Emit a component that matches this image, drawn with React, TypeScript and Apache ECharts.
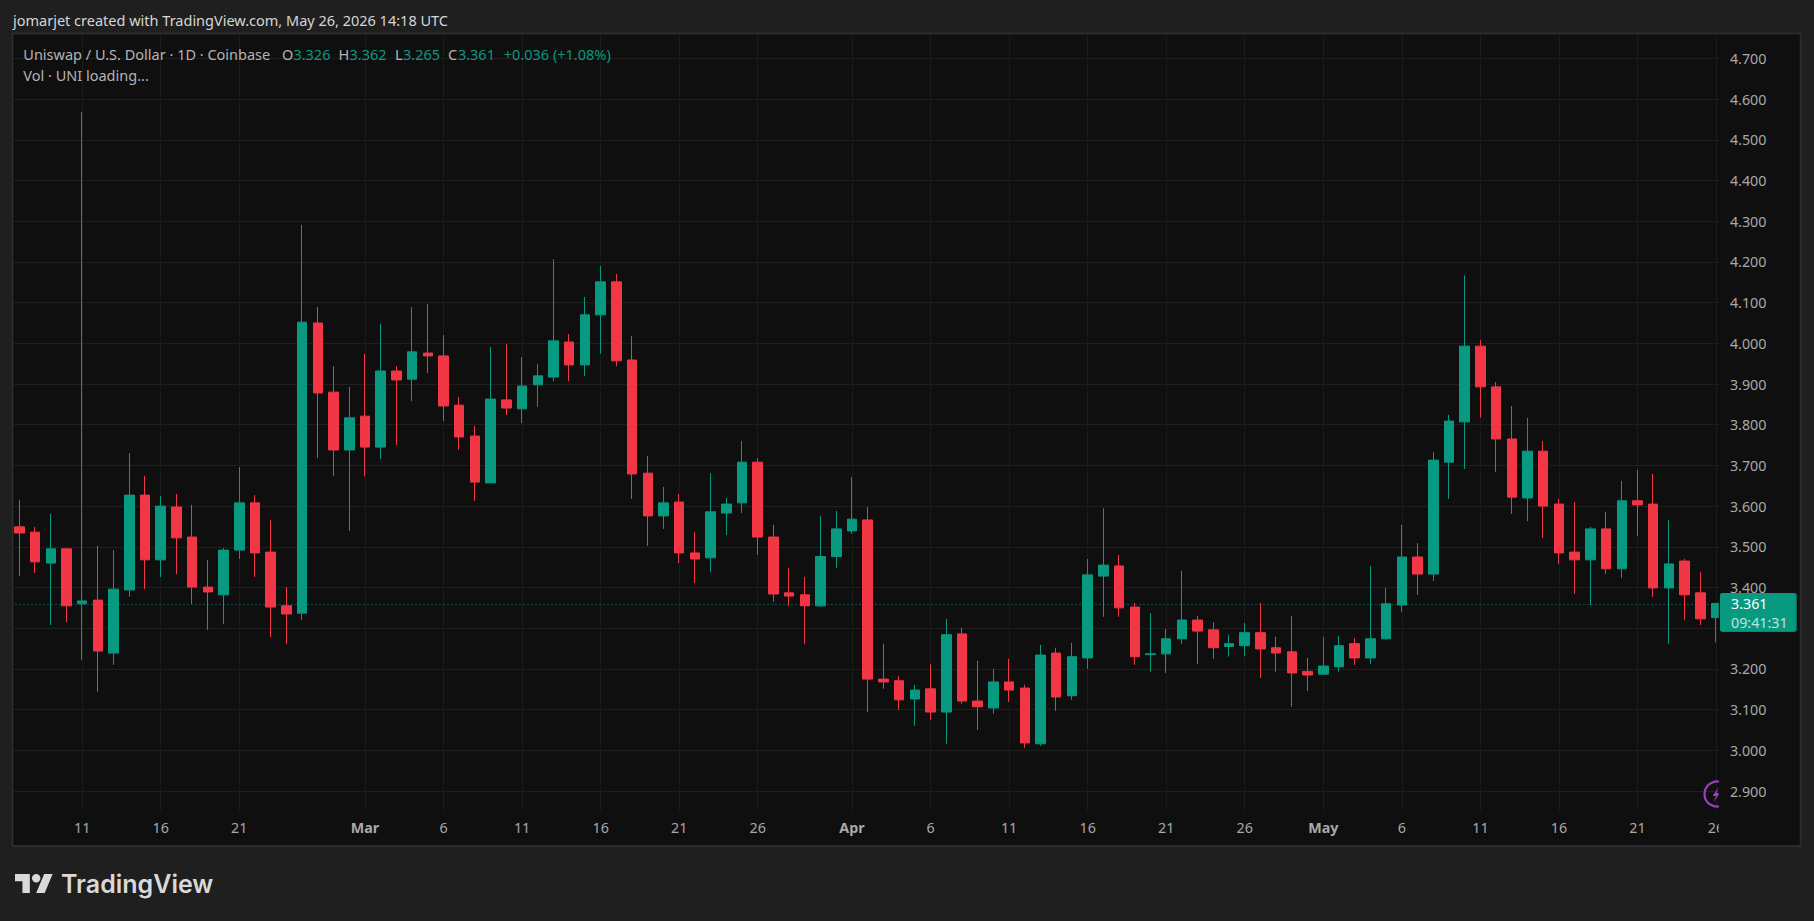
import React, { useEffect, useRef } from "react";
import * as echarts from "echarts";

const dates = [
  "Feb 7","Feb 8","Feb 9","Feb 10","Feb 11","Feb 12","Feb 13","Feb 14","Feb 15","Feb 16","Feb 17","Feb 18","Feb 19","Feb 20","Feb 21","Feb 22","Feb 23","Feb 24","Feb 25","Feb 26","Feb 27","Feb 28",
  "Mar 1","Mar 2","Mar 3","Mar 4","Mar 5","Mar 6","Mar 7","Mar 8","Mar 9","Mar 10","Mar 11","Mar 12","Mar 13","Mar 14","Mar 15","Mar 16","Mar 17","Mar 18","Mar 19","Mar 20","Mar 21","Mar 22","Mar 23","Mar 24","Mar 25","Mar 26","Mar 27","Mar 28","Mar 29","Mar 30","Mar 31",
  "Apr 1","Apr 2","Apr 3","Apr 4","Apr 5","Apr 6","Apr 7","Apr 8","Apr 9","Apr 10","Apr 11","Apr 12","Apr 13","Apr 14","Apr 15","Apr 16","Apr 17","Apr 18","Apr 19","Apr 20","Apr 21","Apr 22","Apr 23","Apr 24","Apr 25","Apr 26","Apr 27","Apr 28","Apr 29","Apr 30",
  "May 1","May 2","May 3","May 4","May 5","May 6","May 7","May 8","May 9","May 10","May 11","May 12","May 13","May 14","May 15","May 16","May 17","May 18","May 19","May 20","May 21","May 22","May 23","May 24","May 25","May 26",
];
const opens = [
  3.549,3.536,3.460,3.495,3.360,3.369,3.239,3.394,3.627,3.468,3.598,3.524,3.401,3.382,3.492,3.608,3.487,3.355,3.337,4.050,3.880,3.738,
  3.821,3.745,3.932,3.912,3.976,3.969,3.848,3.772,3.657,3.861,3.839,3.898,3.917,4.003,3.947,4.070,4.151,3.959,3.681,3.576,3.610,3.485,3.473,3.583,3.608,3.708,3.524,3.387,3.382,3.355,3.476,
  3.539,3.566,3.175,3.171,3.126,3.151,3.094,3.286,3.121,3.104,3.168,3.153,3.016,3.239,3.134,3.227,3.428,3.453,3.352,3.235,3.237,3.274,3.320,3.296,3.255,3.257,3.289,3.252,3.242,3.194,
  3.187,3.205,3.262,3.227,3.274,3.357,3.475,3.433,3.708,3.807,3.993,3.893,3.765,3.620,3.735,3.605,3.487,3.468,3.544,3.446,3.613,3.605,3.399,3.465,3.387,3.326,
];
const closes = [
  3.534,3.463,3.495,3.355,3.367,3.244,3.396,3.627,3.468,3.600,3.522,3.401,3.389,3.492,3.608,3.485,3.352,3.335,4.052,3.878,3.738,3.817,
  3.745,3.932,3.910,3.979,3.969,3.846,3.770,3.659,3.863,3.841,3.895,3.920,4.006,3.947,4.070,4.151,3.957,3.679,3.576,3.608,3.485,3.470,3.586,3.605,3.708,3.524,3.384,3.379,3.355,3.476,3.544,
  3.568,3.175,3.168,3.124,3.148,3.094,3.284,3.121,3.107,3.168,3.148,3.018,3.234,3.131,3.230,3.431,3.455,3.350,3.230,3.237,3.274,3.320,3.293,3.252,3.262,3.289,3.249,3.239,3.190,3.185,
  3.207,3.257,3.227,3.274,3.360,3.475,3.433,3.713,3.809,3.993,3.893,3.765,3.622,3.735,3.600,3.485,3.468,3.544,3.446,3.613,3.603,3.399,3.458,3.382,3.323,3.361,
];
const lows = [
  3.428,3.436,3.308,3.315,3.222,3.144,3.210,3.377,3.396,3.426,3.433,3.360,3.296,3.310,3.470,3.426,3.278,3.261,3.320,3.718,3.674,3.539,
  3.673,3.716,3.750,3.858,3.927,3.809,3.738,3.613,3.657,3.824,3.804,3.844,3.907,3.907,3.920,3.974,3.944,3.618,3.502,3.544,3.460,3.411,3.438,3.529,3.583,3.480,3.365,3.355,3.261,3.352,3.448,
  3.532,3.094,3.151,3.099,3.060,3.075,3.016,3.114,3.050,3.090,3.119,3.006,3.011,3.097,3.124,3.200,3.328,3.328,3.210,3.193,3.190,3.262,3.212,3.225,3.230,3.232,3.178,3.193,3.107,3.146,
  3.187,3.193,3.210,3.212,3.272,3.340,3.382,3.416,3.618,3.691,3.817,3.684,3.581,3.563,3.522,3.458,3.384,3.357,3.433,3.423,3.527,3.377,3.262,3.320,3.308,3.265,
];
const highs = [
  3.615,3.549,3.581,3.497,4.568,3.502,3.492,3.730,3.674,3.625,3.630,3.603,3.468,3.497,3.696,3.627,3.566,3.401,4.291,4.089,3.944,3.893,
  3.974,4.048,3.944,4.089,4.097,4.020,3.868,3.797,3.991,3.998,3.966,3.949,4.207,4.023,4.114,4.190,4.170,4.018,3.723,3.647,3.630,3.536,3.681,3.620,3.760,3.718,3.554,3.448,3.426,3.576,3.588,
  3.671,3.598,3.262,3.183,3.161,3.212,3.323,3.301,3.220,3.200,3.225,3.161,3.259,3.252,3.264,3.470,3.595,3.480,3.362,3.337,3.298,3.441,3.330,3.315,3.284,3.313,3.362,3.279,3.330,3.227,
  3.279,3.281,3.276,3.453,3.399,3.554,3.509,3.733,3.824,4.167,4.008,3.905,3.846,3.817,3.760,3.618,3.610,3.549,3.586,3.662,3.689,3.679,3.566,3.470,3.438,3.362,
];
const tickDates = ["Feb 11","Feb 16","Feb 21","Mar 1","Mar 6","Mar 11","Mar 16","Mar 21","Mar 26","Apr 1","Apr 6","Apr 11","Apr 16","Apr 21","Apr 26","May 1","May 6","May 11","May 16","May 21","May 26"];
const tickTexts = ["11","16","21","Mar","6","11","16","21","26","Apr","6","11","16","21","26","May","6","11","16","21","26"];
const monthTexts = ["Mar","Apr","May"];
const priceTicks = [2.9,3.0,3.1,3.2,3.3,3.4,3.5,3.6,3.7,3.8,3.9,4.0,4.1,4.2,4.3,4.4,4.5,4.6,4.7];
// 3.300 sits hidden behind the last-price tag, as in the original
const priceLabels = [2.9,3.0,3.1,3.2,3.4,3.5,3.6,3.7,3.8,3.9,4.0,4.1,4.2,4.3,4.4,4.5,4.6,4.7];
const lastPrice = 3.361;
const changeText = "+0.036 (+1.08%)";
const countdown = "09:41:31";
const headerText = "jomarjet created with TradingView.com, May 26, 2026 14:18 UTC";
const symbolText = "Uniswap / U.S. Dollar · 1D · Coinbase";
const volText = "Vol · UNI loading...";
const brandText = "TradingView";

const UP = "#089981";
const DOWN = "#F23645";
const FONT = "'Noto Sans'";
const TEXT_SIZE = 14.5;
const AXIS_SIZE = 14.3;
const BADGE = "#a03cc0";

echarts.graphic.registerShape("tvLogo", echarts.graphic.extendPath(
  "M14 6H0v7h7v11h7V6zM28 24h-8l7.5-18h8L28 24zM24 10a4 4 0 1 0-8 0 4 4 0 1 0 8 0z", {}
) as any);

const legendText = (text: string, x: number, y: number, fill: string) => ({
  type: "text", x, y, z: 6, silent: true,
  style: { text, fill, fontSize: TEXT_SIZE, fontFamily: FONT, verticalAlign: "middle", textVerticalAlign: "middle" },
});

export default function App() {
  const ref = useRef<HTMLDivElement>(null);
  useEffect(() => {
    document.body.style.margin = "0";
    document.body.style.background = "#1f1f1f";
    const chart = echarts.init(ref.current!, undefined, { renderer: "svg" });
    const isTick = (i: number) => tickDates.includes(dates[i]);
    const labelFor = (val: string) => {
      const t = tickTexts[tickDates.indexOf(val)];
      return monthTexts.includes(t) ? `{m|${t}}` : t;
    };
    const last = dates.length - 1;
    chart.setOption({
      animation: false,
      backgroundColor: "#1f1f1f",
      grid: { left: 11.5, top: 34, width: 1712.4, height: 776.7, containLabel: false },
      xAxis: {
        type: "category", data: dates, boundaryGap: true, z: 1,
        axisLine: { show: false }, axisTick: { show: false },
        splitLine: { show: true, alignWithLabel: true, interval: (i: number) => isTick(i), lineStyle: { color: "#1b1b1b", width: 1 } },
        axisLabel: {
          interval: (i: number) => isTick(i), formatter: labelFor, color: "#a9a9a9", fontSize: AXIS_SIZE, fontFamily: FONT, margin: 10,
          rich: { m: { fontWeight: "bold", color: "#a9a9a9", fontSize: AXIS_SIZE, fontFamily: FONT } },
        },
      },
      yAxis: [
        {
          type: "value", min: 2.8516, max: 4.76, position: "right", z: 1,
          axisLine: { show: false }, axisTick: { show: false, customValues: priceTicks },
          axisLabel: { show: false, customValues: priceTicks },
          splitLine: { show: true, lineStyle: { color: "#1f1f1f", width: 1 } },
        },
        {
          type: "value", min: 2.8516, max: 4.76, position: "right", z: 10,
          axisLine: { show: false }, axisTick: { show: false, customValues: priceLabels },
          axisLabel: { customValues: priceLabels, margin: 6, color: "#a9a9a9", fontSize: AXIS_SIZE, fontFamily: FONT, formatter: (v: number) => v.toFixed(3), showMinLabel: true, showMaxLabel: true },
          splitLine: { show: false },
        },
      ],
      series: [{
        type: "candlestick", z: 3, barWidth: 10, xAxisIndex: 0, yAxisIndex: 0,
        data: dates.map((_, i) => [opens[i], closes[i], lows[i], highs[i]]),
        itemStyle: { color: UP, color0: DOWN, borderColor: UP, borderColor0: DOWN, borderWidth: 1 },
        markLine: {
          silent: true, symbol: "none", z: 2, label: { show: false }, animation: false,
          lineStyle: { color: UP, type: [1, 3], width: 1, opacity: 1 },
          data: [{ yAxis: lastPrice }],
        },
      }],
      graphic: [
        { type: "rect", z: 0, silent: true, shape: { x: 12.5, y: 33.5, width: 1788, height: 812.5 }, style: { fill: "#0f0f0f", stroke: "#2e2e2e", lineWidth: 1.5 } },
        // lightning badge, clipped by the price scale panel
        { type: "circle", z: 3, silent: true, shape: { cx: 1717, cy: 794, r: 12.5 }, style: { fill: "none", stroke: BADGE, lineWidth: 2.2 } },
        { type: "polygon", z: 3, silent: true, shape: { points: [[1718.5, 787.5], [1712.5, 796], [1716, 796], [1713.5, 802], [1720, 793], [1716.5, 793]] }, style: { fill: BADGE } },
        // panels that clip the plot
        { type: "rect", z: 4, silent: true, shape: { x: 1718.8, y: 34.3, width: 81, height: 811 }, style: { fill: "#0f0f0f" } },
        { type: "rect", z: 4, silent: true, shape: { x: 0, y: 30, width: 12, height: 820 }, style: { fill: "#1f1f1f" } },
        { type: "rect", z: 4, silent: true, shape: { x: 12.5, y: 33.5, width: 1788, height: 812.5 }, style: { fill: "none", stroke: "#2e2e2e", lineWidth: 1.5 } },
        // price tag
        { type: "rect", z: 11, silent: true, shape: { x: 1721, y: 593, width: 76, height: 38.7, r: 2 }, style: { fill: "#0a6e5e" } },
        { type: "rect", z: 11, silent: true, shape: { x: 1720, y: 593, width: 75.7, height: 38.7, r: 2 }, style: { fill: UP } },
        { type: "text", z: 12, silent: true, x: 1731, y: 603.7, style: { text: lastPrice.toFixed(3), fill: "#ffffff", fontSize: AXIS_SIZE, fontFamily: FONT, verticalAlign: "middle", textVerticalAlign: "middle" } },
        { type: "text", z: 12, silent: true, x: 1731, y: 622, style: { text: countdown, fill: "#bfe3db", fontSize: AXIS_SIZE, fontFamily: FONT, verticalAlign: "middle", textVerticalAlign: "middle" } },
        // header & legend
        legendText(headerText, 13, 20, "#d6d6d6"),
        legendText(symbolText, 23.3, 53.7, "#b4b4b4"),
        legendText("O", 282, 53.7, "#b4b4b4"),
        legendText(opens[last].toFixed(3), 293.4, 53.7, UP),
        legendText("H", 338.5, 53.7, "#b4b4b4"),
        legendText(highs[last].toFixed(3), 349.5, 53.7, UP),
        legendText("L", 395, 53.7, "#b4b4b4"),
        legendText(lows[last].toFixed(3), 403, 53.7, UP),
        legendText("C", 448, 53.7, "#b4b4b4"),
        legendText(closes[last].toFixed(3), 457.9, 53.7, UP),
        legendText(changeText, 503.8, 53.7, UP),
        legendText(volText, 23.3, 75, "#b4b4b4"),
        // brand
        { type: "tvLogo", z: 6, silent: true, x: 15, y: 867.7, scaleX: 1.06, scaleY: 1.05, style: { fill: "#d9d9d9" } },
        { type: "text", z: 6, silent: true, x: 61, y: 884, style: { text: brandText, fill: "#d9d9d9", fontSize: 25, fontWeight: 600, fontFamily: "Inter", verticalAlign: "middle", textVerticalAlign: "middle" } },
      ],
    });
    return () => chart.dispose();
  }, []);
  return <div ref={ref} style={{ position: "absolute", left: 0, top: 0, width: 1814, height: 921 }} />;
}
